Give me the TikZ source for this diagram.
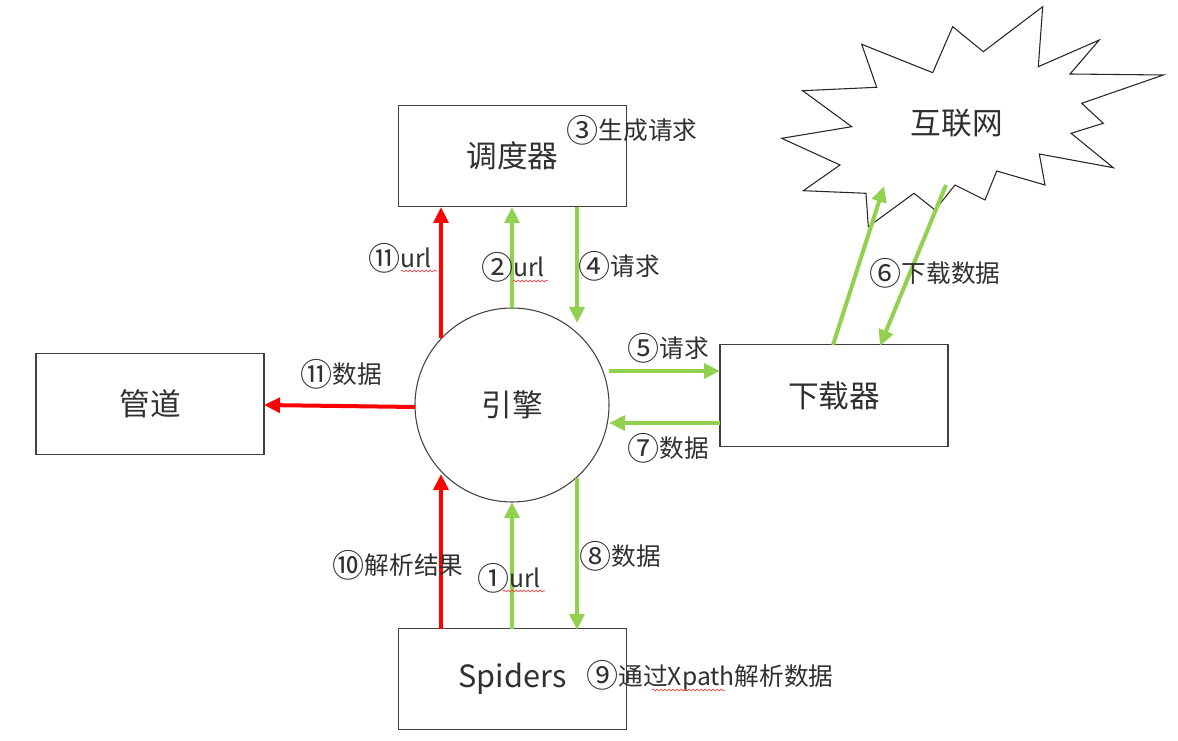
\documentclass[tikz,border=0pt]{standalone}
\usepackage{fontspec}
\usepackage{graphicx}
\setmainfont{Noto Sans CJK SC}
\usetikzlibrary{arrows.meta,decorations.pathmorphing,calc}
\definecolor{lgreen}{HTML}{92D050}
\definecolor{boxline}{HTML}{404040}
\definecolor{txt}{HTML}{303030}
\newcommand\cnum[1]{\raisebox{-0.1em}{\scalebox{1.3}{#1}}}
\begin{document}
\begin{tikzpicture}[x=0.75pt,y=-0.75pt,
  box/.style={draw=boxline,line width=0.8pt,minimum width=171pt,minimum height=76pt,inner sep=0pt,
    font=\fontsize{23}{26}\selectfont,text=txt},
  lbl/.style={font=\fontsize{18.5}{22}\selectfont,text=txt,inner sep=0pt},
  garrow/.style={draw=lgreen,line width=3pt,-{Triangle[length=12pt,width=11pt]}},
  rarrow/.style={draw=red,line width=3pt,-{Triangle[length=12pt,width=11pt]}},
  wavy/.style={draw=red!80,line width=0.5pt,decorate,decoration={snake,segment length=3pt,amplitude=0.7pt}}]
\useasboundingbox (0,0) rectangle (1178,741);
% boxes
\node[box] (sched) at (512.5,156) {调度器};
\node[box] (pipe) at (150,404) {管道};
\node[box] (down) at (834,395.5) {下载器};
\node[box] (spid) at (512.5,679) {Spiders};
\node[draw=boxline,line width=0.8pt,circle,minimum size=145.5pt,inner sep=0pt,
  font=\fontsize{23}{26}\selectfont,text=txt] (eng) at (512,405) {引擎};
% cloud
\draw[line width=0.8pt,draw=black!85] (781.7,138.3) -- (851.7,126.7) -- (802.7,90.7) -- (876.7,87.3) -- (861.7,44.3)
 -- (932.7,72.7) -- (952.7,26.7) -- (983.3,51.7) -- (1042.7,6.7) -- (1038.3,66.7) -- (1099.3,40)
 -- (1070,74) -- (1163.3,75) -- (1081.7,103.3) -- (1103.3,123.3) -- (1071,133.3) -- (1113.3,167.7)
 -- (1039.3,154) -- (1045,185) -- (996.7,171) -- (985,200) -- (955,185) -- (935,210) -- (914,193.3)
 -- (868.3,226.7) -- (866,193.3) -- (803.3,190.7) -- (840,165) -- cycle;
\node[font=\fontsize{23}{26}\selectfont,text=txt] (net) at (956.7,123) {互联网};
% arrow end points
\coordinate (a2s) at (512,308); \coordinate (a2e) at (512,207);
\coordinate (a4s) at (577,207); \coordinate (a4e) at (577,323);
\coordinate (a11s) at (441,338); \coordinate (a11e) at (441,207);
\coordinate (a5s) at (609,371); \coordinate (a5e) at (720,371);
\coordinate (a7s) at (720,423); \coordinate (a7e) at (609,423);
\coordinate (d11s) at (415,407); \coordinate (d11e) at (264,405);
\coordinate (a6us) at (833,345); \coordinate (a6ue) at (884,186);
\coordinate (a6ds) at (946,185); \coordinate (a6de) at (880,346);
\coordinate (a1s) at (512,629); \coordinate (a1e) at (512,502);
\coordinate (a8s) at (577,478); \coordinate (a8e) at (577,630);
\coordinate (a10s) at (441,629); \coordinate (a10e) at (441,474);
% arrows
\draw[garrow] (a2s) -- (a2e);
\draw[garrow] (a4s) -- (a4e);
\draw[rarrow] (a11s) -- (a11e);
\draw[garrow] (a5s) -- (a5e);
\draw[garrow] (a7s) -- (a7e);
\draw[rarrow] (d11s) -- (d11e);
\draw[garrow] (a6us) -- (a6ue);
\draw[garrow] (a6ds) -- (a6de);
\draw[garrow] (a1s) -- (a1e);
\draw[garrow] (a8s) -- (a8e);
\draw[rarrow] (a10s) -- (a10e);
% labels
\node[lbl] (l3) at (632,130) {\cnum{③}生成请求};
\node[lbl] (l11u) at (400,258) {\cnum{⑪}url};
\node[lbl] (l2) at (513,267) {\cnum{②}url};
\node[lbl] (l4) at (619,266) {\cnum{④}请求};
\node[lbl] (l5) at (668,348) {\cnum{⑤}请求};
\node[lbl] (l7) at (668,448) {\cnum{⑦}数据};
\node[lbl] (l11d) at (341,374) {\cnum{⑪}数据};
\node[lbl] (l6) at (935,273) {\cnum{⑥}下载数据};
\node[lbl] (l8) at (620,556) {\cnum{⑧}数据};
\node[lbl] (l10) at (398,565) {\cnum{⑩}解析结果};
\node[lbl] (l1) at (509,578) {\cnum{①}url};
\node[lbl] (l9) at (710,676) {\cnum{⑨}通过Xpath解析数据};
% spell-check underlines
\draw[wavy] (401,271) -- (437,271);
\draw[wavy] (513,281) -- (548,281);
\draw[wavy] (503,591) -- (545,591);
\draw[wavy] (652,690) -- (725,690);
\end{tikzpicture}
\end{document}
